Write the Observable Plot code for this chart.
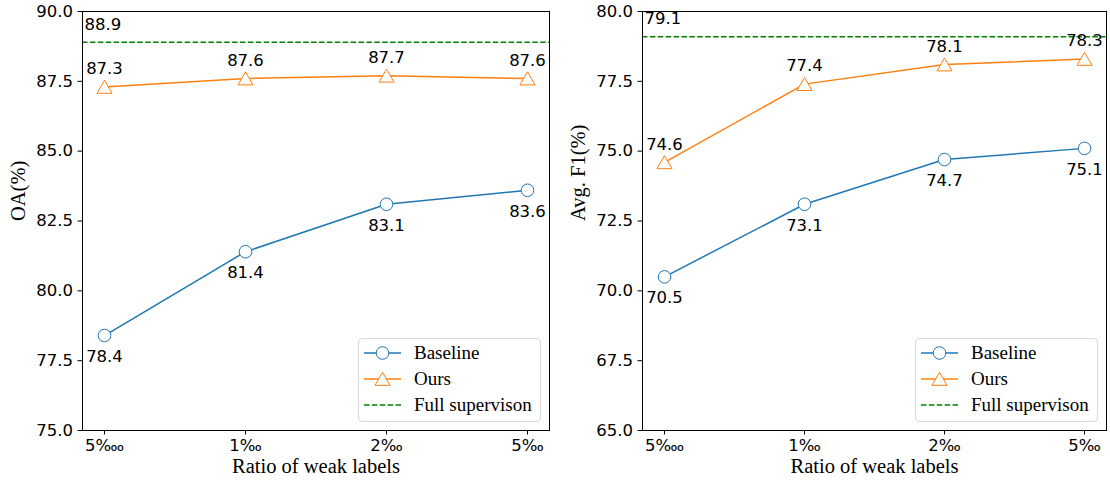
<!DOCTYPE html>
<html>
<head>
<meta charset="utf-8">
<script src="https://cdn.jsdelivr.net/npm/d3@7"></script>
<script src="https://cdn.jsdelivr.net/npm/@observablehq/plot@0.6"></script>
<style>
  html, body { margin: 0; padding: 0; background: #fff; }
  #wrap { position: relative; width: 1110px; height: 484px; display: flex; }
  .panel { position: relative; }
  .legend {
    position: absolute; border: 1px solid #d9d9d9; border-radius: 4px; background: rgba(255,255,255,0.85);
    font-family: "Liberation Serif", serif; font-size: 19px; color: #000;
    padding: 1px 4px 1px 5px; box-sizing: border-box;
  }
  .legend .row { display: flex; align-items: center; height: 26px; }
  .legend svg { margin-right: 13px; flex: none; }
</style>
</head>
<body>
<div id="wrap"></div>
<script>
const ratios = ["5\u2031", "1\u2030", "2\u2030", "5\u2030"];
const seriesNames = ["Baseline", "Ours", "Full supervison"];
const seriesColors = ["#1f77b4", "#ff7f0e", "#008000"];

const oaBaseline = [78.4, 81.4, 83.1, 83.6];
const oaOurs = [87.3, 87.6, 87.7, 87.6];
const oaFull = 88.9;
const oaTicks = [75, 77.5, 80, 82.5, 85, 87.5, 90];

const f1Baseline = [70.5, 73.1, 74.7, 75.1];
const f1Ours = [74.6, 77.4, 78.1, 78.3];
const f1Full = 79.1;
const f1Ticks = [65, 67.5, 70, 72.5, 75, 77.5, 80];

const xLabel = "Ratio of weak labels";

const TRI_R = 5.6;

function panel({width, marginLeft, marginRight, ticks, baseline, ours, full, yLabel}) {
  const rows = (vals, s) => vals.map((v, i) => ({ratio: ratios[i], value: v, series: s}));
  const b = rows(baseline, seriesNames[0]);
  const o = rows(ours, seriesNames[1]);
  const fmt = d3.format(".1f");
  const fs = 16.5;
  return Plot.plot({
    width, height: 484,
    marginLeft, marginRight, marginTop: 11, marginBottom: 54,
    style: {fontFamily: "DejaVu Sans", fontSize: fs + "px", color: "#000", background: "transparent", overflow: "visible"},
    x: {type: "point", domain: ratios, padding: 0.15, label: null},
    y: {domain: [d3.min(ticks), d3.max(ticks)], label: null},
    marks: [
      Plot.axisX({tickSize: 4.5, tickPadding: 4, fontSize: fs, label: null}),
      Plot.axisY({ticks, tickFormat: fmt, tickSize: 4.5, tickPadding: 5, fontSize: fs, label: null}),
      Plot.ruleY([full], {stroke: seriesColors[2], strokeWidth: 1.5, strokeDasharray: "5.5,2.4"}),
      Plot.text([full], {y: d => d, frameAnchor: "left", text: d => fmt(d), textAnchor: "start", dx: 2, dy: -18, fontSize: fs, fill: "#000"}),
      Plot.line(b, {x: "ratio", y: "value", stroke: seriesColors[0], strokeWidth: 1.5}),
      Plot.line(o, {x: "ratio", y: "value", stroke: seriesColors[1], strokeWidth: 1.5}),
      Plot.dot(b, {x: "ratio", y: "value", r: 6.3, stroke: seriesColors[0], fill: "white", strokeWidth: 1}),
      Plot.dot(o, {x: "ratio", y: "value", symbol: "triangle", r: TRI_R, dy: 2, stroke: seriesColors[1], fill: "white", strokeWidth: 1}),
      Plot.text(b, {x: "ratio", y: "value", text: d => fmt(d.value), dy: 21, fontSize: fs, fill: "#000"}),
      Plot.text(o, {x: "ratio", y: "value", text: d => fmt(d.value), dy: -18, fontSize: fs, fill: "#000"}),
      Plot.text([xLabel], {frameAnchor: "bottom", text: d => d, dy: 42, fontFamily: "Liberation Serif", fontSize: 20.5, fill: "#000"}),
      Plot.text([yLabel], {frameAnchor: "left", text: d => d, rotate: -90, dx: -64, fontFamily: "Liberation Serif", fontSize: 20.5, fill: "#000"}),
      Plot.frame({stroke: "#000", strokeWidth: 1})
    ]
  });
}

function legend(left, top) {
  const div = document.createElement("div");
  div.className = "legend";
  div.style.left = left + "px";
  div.style.top = top + "px";
  div.style.width = "183px";
  div.style.height = "84px";
  const tri = d3.symbol(d3.symbolTriangle, TRI_R * TRI_R * Math.PI)();
  const icons = [
    `<svg width="37" height="16"><line x1="0" x2="37" y1="8" y2="8" stroke="${seriesColors[0]}" stroke-width="1.5"/><circle cx="18.5" cy="8" r="6.3" fill="white" stroke="${seriesColors[0]}"/></svg>`,
    `<svg width="37" height="16"><line x1="0" x2="37" y1="8" y2="8" stroke="${seriesColors[1]}" stroke-width="1.5"/><path d="${tri}" transform="translate(18.5,10)" fill="white" stroke="${seriesColors[1]}"/></svg>`,
    `<svg width="37" height="16"><line x1="0" x2="37" y1="8" y2="8" stroke="${seriesColors[2]}" stroke-width="1.5" stroke-dasharray="5.5,2.4"/></svg>`
  ];
  div.innerHTML = seriesNames.map((n, i) => `<div class="row">${icons[i]}<span>${n}</span></div>`).join("");
  return div;
}

const wrap = document.getElementById("wrap");
const p1 = document.createElement("div"); p1.className = "panel";
p1.appendChild(panel({width: 555, marginLeft: 82, marginRight: 6, ticks: oaTicks, baseline: oaBaseline, ours: oaOurs, full: oaFull, yLabel: "OA(%)"}));
p1.appendChild(legend(358, 338));
const p2 = document.createElement("div"); p2.className = "panel";
p2.appendChild(panel({width: 555, marginLeft: 87, marginRight: 4, ticks: f1Ticks, baseline: f1Baseline, ours: f1Ours, full: f1Full, yLabel: "Avg. F1(%)"}));
p2.appendChild(legend(360, 338));
wrap.appendChild(p1);
wrap.appendChild(p2);
</script>
</body>
</html>
